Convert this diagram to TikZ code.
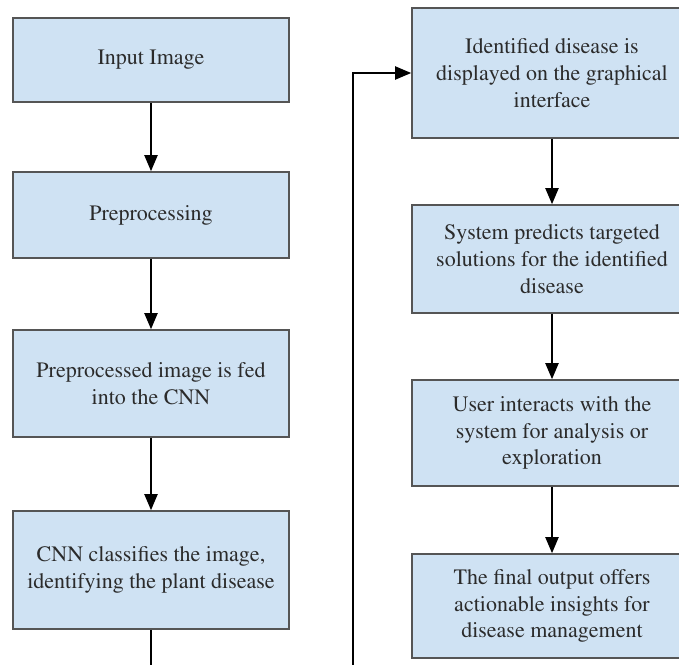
\documentclass[tikz,border=0pt]{standalone}
\usepackage[T1]{fontenc}
\usepackage{mathptmx}
\usetikzlibrary{arrows.meta}
\definecolor{boxfill}{HTML}{CFE2F3}
\definecolor{boxline}{HTML}{555555}
\definecolor{boxtext}{HTML}{2B2B2B}

\begin{document}
\begin{tikzpicture}[font=\fontsize{11}{13.4}\selectfont, x=0.5pt, y=-0.5pt,
  box/.style={draw=boxline, line width=0.8pt, fill=boxfill, text=boxtext,
    align=center, inner sep=0pt},
  lbox/.style={box, minimum width=138pt},
  rbox/.style={box, minimum width=140pt},
  flow/.style={-{Triangle[width=6.5pt,length=8pt]}, line width=1pt}]

\clip (0,0) rectangle (679,664);

% left column
\node[lbox, minimum height=42pt] (inp) at (151,60) {Input Image};
\node[lbox, minimum height=43pt] (pre) at (151,215) {Preprocessing};
\node[lbox, minimum height=53.5pt] (feed) at (151,383.5) {Preprocessed image is fed\\into the CNN};
\node[lbox, minimum height=59pt] (cls) at (151,570) {CNN classifies the image,\\identifying the plant disease};

% right column
\node[rbox, minimum height=65pt] (disp) at (552,73) {Identified disease is\\displayed on the graphical\\interface};
\node[rbox, minimum height=54pt] (sol) at (552,259) {System predicts targeted\\solutions for the identified\\disease};
\node[rbox, minimum height=53pt] (user) at (552,433) {User interacts with the\\system for analysis or\\exploration};
\node[rbox, minimum height=52pt] (out) at (552,606) {The final output offers\\actionable insights for\\disease management};

\coordinate (down) at (151,680);
\coordinate (up) at (353,680);

\draw[flow] (inp) -- (pre);
\draw[flow] (pre) -- (feed);
\draw[flow] (feed) -- (cls);
\draw[line width=1pt] (cls) -- (down);
\draw[flow] (up) |- (disp.west);
\draw[flow] (disp) -- (sol);
\draw[flow] (sol) -- (user);
\draw[flow] (user) -- (out);

\end{tikzpicture}
\end{document}
